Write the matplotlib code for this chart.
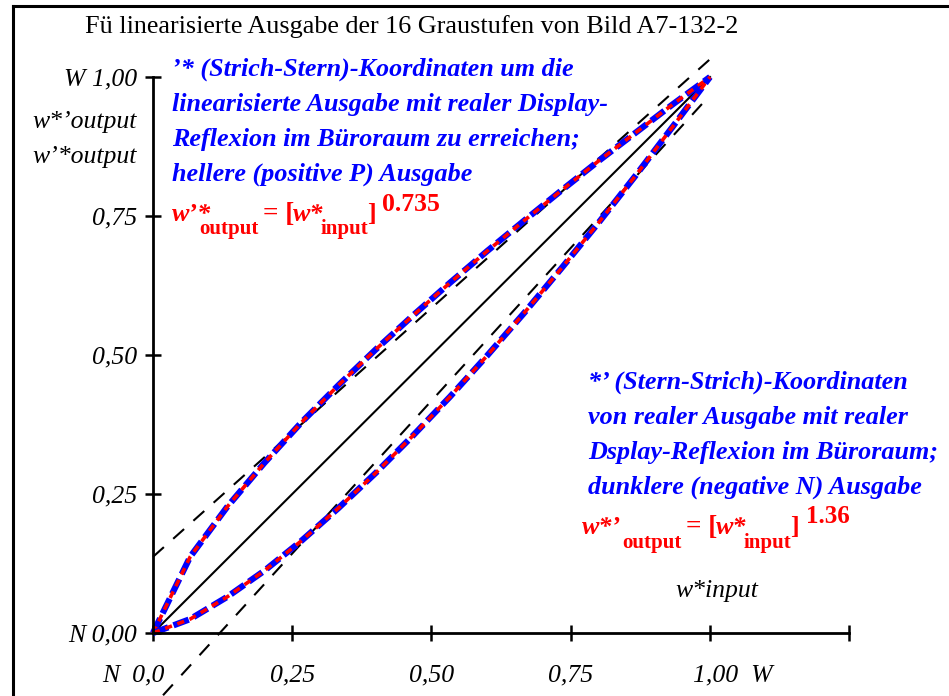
import numpy as np
import matplotlib
matplotlib.use("Agg")
import matplotlib.pyplot as plt
from matplotlib.lines import Line2D

plt.rcParams["font.family"] = ["Liberation Serif", "DejaVu Serif"]

W, H = 949, 696
FS = 18.8

# 16 gray steps, input values
w_input = [0.0, 0.0667, 0.1333, 0.2, 0.2667, 0.3333, 0.4, 0.4667,
           0.5333, 0.6, 0.6667, 0.7333, 0.8, 0.8667, 0.9333, 1.0]
# lighter output (exponent 0.735)
w_out_pos = [0.0, 0.137, 0.227, 0.306, 0.379, 0.446, 0.510, 0.571,
             0.630, 0.687, 0.742, 0.796, 0.849, 0.900, 0.951, 1.0]
# darker output (exponent 1.36)
w_out_neg = [0.0, 0.025, 0.065, 0.112, 0.166, 0.225, 0.288, 0.355,
             0.425, 0.499, 0.576, 0.656, 0.738, 0.823, 0.911, 1.0]

# black dashed guide lines
guide_up_x = [0.0, 1.0]
guide_up_y = [0.137, 1.032]
guide_lo_x = [0.018, 0.987]
guide_lo_y = [-0.112, 0.953]

xticks = [0.0, 0.25, 0.5, 0.75, 1.0, 1.25]
yticks = [0.0, 0.25, 0.5, 0.75, 1.0]
ytick_labels = ["N 0,00", "0,25", "0,50", "0,75", "W 1,00"]
xtick_labels = ["0,25", "0,50", "0,75"]

fig = plt.figure(figsize=(W / 100, H / 100), dpi=100)
ax = fig.add_axes([0, 0, 1, 1])
ax.set_xlim(-153 / 557, (W - 153) / 557)
ax.set_ylim(-(H - 633) / 556, 633 / 556)
ax.patch.set_visible(False)

for s in ["top", "right"]:
    ax.spines[s].set_visible(False)
ax.spines["left"].set_position(("data", 0))
ax.spines["bottom"].set_position(("data", 0))
ax.spines["left"].set_bounds(0, 1)
ax.spines["bottom"].set_bounds(0, 1.25)
ax.spines["left"].set_linewidth(2)
ax.spines["bottom"].set_linewidth(2)

ax.set_xticks(xticks, labels=[""] * len(xticks))
ax.set_yticks(yticks, labels=ytick_labels)
ax.tick_params(direction="inout", length=11.5, width=1.8)
ax.tick_params(axis="y", pad=5.5, labelsize=18.5)
for lab in ax.get_yticklabels():
    lab.set_fontstyle("italic")

# reference lines
ax.plot([0, 1], [0, 1], color="black", lw=1.5)
ax.plot(guide_up_x, guide_up_y, color="black", lw=1.5, dashes=(7, 6), clip_on=False)
ax.plot(guide_lo_x, guide_lo_y, color="black", lw=1.5, dashes=(7, 6), clip_on=False)

# curves: blue dashes with red dashes on top
for ys in (w_out_pos, w_out_neg):
    ax.plot(w_input, ys, color="#0000ff", lw=4.5, dashes=(2.6, 0.9))
    ax.plot(w_input, ys, color="#ff0000", lw=2.6, dashes=(2.0, 1.6))

# x tick labels
lab_y = -(681 - 633) / 556
for xv, s in zip([0.25, 0.5, 0.75], xtick_labels):
    ax.text(xv, lab_y, s, ha="center", va="baseline", fontsize=18.5, style="italic")
ax.text(0.0215, lab_y, "N  0,0", ha="right", va="baseline", fontsize=18.5, style="italic")
ax.text(0.969, lab_y, "1,00  W", ha="left", va="baseline", fontsize=18.5, style="italic")


def px(x, y):
    return x / W, 1 - y / H


# axis captions
fig.text(*px(137, 128), "w*’output", ha="right", va="baseline", fontsize=18.5, style="italic")
fig.text(*px(137, 163), "w’*output", ha="right", va="baseline", fontsize=18.5, style="italic")
fig.text(*px(717, 597), "w*input", ha="center", va="baseline", fontsize=18.5, style="italic")

# title
fig.text(*px(85, 33), "Fü linearisierte Ausgabe der 16 Graustufen von Bild A7-132-2",
         ha="left", va="baseline", fontsize=FS)

# blue notes
upper_lines = ["’* (Strich-Stern)-Koordinaten um die",
               "linearisierte Ausgabe mit realer Display-",
               "Reflexion im Büroraum zu erreichen;",
               "hellere (positive P) Ausgabe"]
lower_lines = ["*’ (Stern-Strich)-Koordinaten",
               "von realer Ausgabe mit realer",
               "Dsplay-Reflexion im Büroraum;",
               "dunklere (negative N) Ausgabe"]
for i, s in enumerate(upper_lines):
    fig.text(*px(172, 76 + 35 * i), s, ha="left", va="baseline", fontsize=FS,
             style="italic", weight="bold", color="#0000ff")
for i, s in enumerate(lower_lines):
    fig.text(*px(588, 389 + 35 * i), s, ha="left", va="baseline", fontsize=FS,
             style="italic", weight="bold", color="#0000ff")

# red formulas, pieces chained left to right
renderer = fig.canvas.get_renderer()


def formula(x0, y0, pieces):
    x = x0
    for s, dy, style, size, gap in pieces:
        x += gap
        t = fig.text(*px(x, y0 + dy), s, ha="left", va="baseline", fontsize=size,
                     weight="bold", style=style, color="#ff0000")
        x = t.get_window_extent(renderer=renderer).x1


formula(172, 221, [("w’*", 0, "italic", FS, 0), ("output", 13, "normal", 15, -12),
                   ("= [", 0, "normal", 19.5, 4), ("w*", 0, "italic", FS, -1),
                   ("input", 13, "normal", 15, -3), ("]", 0, "normal", FS, -1),
                   ("0.735", -10, "normal", 18.5, 6)])
formula(582, 534, [("w*’", 0, "italic", FS, 0), ("output", 14, "normal", 15, 1),
                   ("= [", 0, "normal", 19.5, 4), ("w*", 0, "italic", FS, -1),
                   ("input", 14, "normal", 15, -3), ("]", 0, "normal", FS, -1),
                   ("1.36", -11, "normal", 18, 7)])

# frame around the picture
fig.add_artist(Line2D([13 / W, 1.0], [1 - 6 / H, 1 - 6 / H], color="black", lw=2.2))
fig.add_artist(Line2D([13 / W, 13 / W], [0.0, 1 - 6 / H], color="black", lw=2.2))

fig.savefig("out.png", dpi=100)
